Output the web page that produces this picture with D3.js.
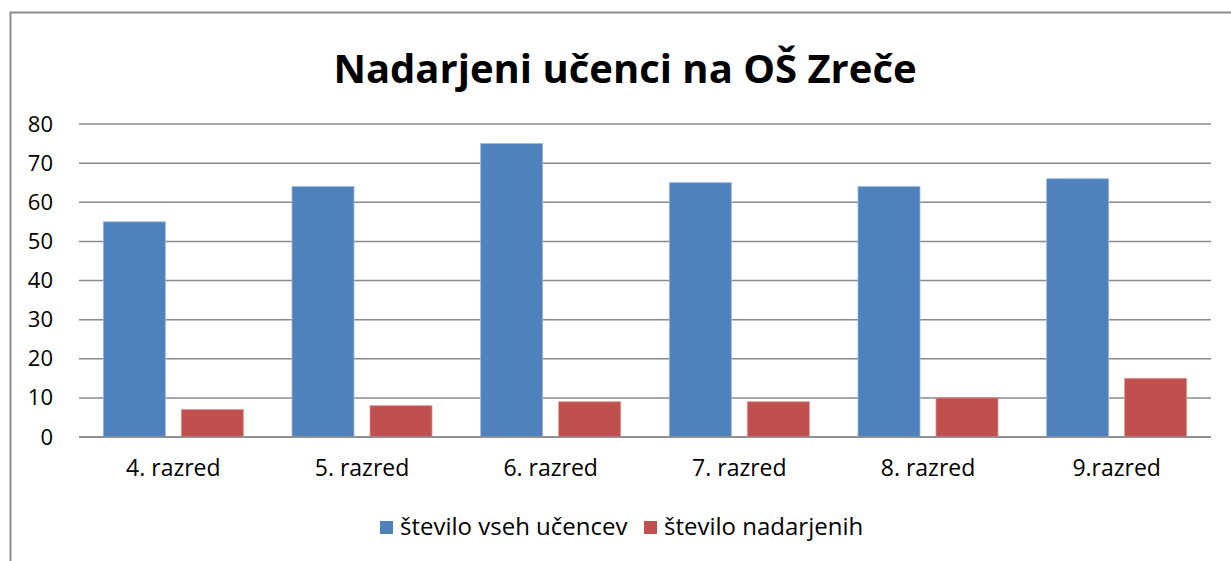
<!DOCTYPE html>
<html>
  <head>
    <meta charset="UTF-8" />
    <title>Nadarjeni učenci na OŠ Zreče</title>
    <style>
      body { margin: 0; background: #fff; }
      text { font-family: "Open Sans", "DejaVu Sans", sans-serif; fill: #000; }
    </style>
  </head>
  <body>
    <script src="https://cdn.jsdelivr.net/npm/d3@7/dist/d3.min.js"></script>
    <script>
      var categories = ["4. razred", "5. razred", "6. razred", "7. razred", "8. razred", "9.razred"];
      var seriesNames = ["število vseh učencev", "število nadarjenih"];
      var allPupils = [55, 64, 75, 65, 64, 66];
      var gifted = [7, 8, 9, 9, 10, 15];
      var yTicks = [0, 10, 20, 30, 40, 50, 60, 70, 80];
      var colors = ["#4F81BD", "#C0504D"];

      var width = 1231, height = 561;
      var plotLeft = 79, plotRight = 1211, plotTop = 124, plotBottom = 437;

      var svg = d3.select("body").append("svg")
        .attr("width", width)
        .attr("height", height);

      // outer chart frame (only top and left edges are visible)
      svg.append("path")
        .attr("d", "M10.5,561 V12.5 H1231")
        .attr("fill", "none")
        .attr("stroke", "#8c8c8c")
        .attr("stroke-width", 2);

      var x = d3.scaleBand().domain(categories).range([plotLeft, plotRight]).paddingInner(0).paddingOuter(0);
      var y = d3.scaleLinear().domain([0, 80]).range([plotBottom, plotTop]);

      // gridlines
      svg.append("g").selectAll("line")
        .data(yTicks)
        .enter()
        .append("line")
        .attr("x1", plotLeft).attr("x2", plotRight)
        .attr("y1", function(d) { return y(d); })
        .attr("y2", function(d) { return y(d); })
        .attr("stroke", "#8a8a8a")
        .attr("stroke-width", 1.5);

      // y axis labels
      var yAxis = d3.axisLeft(y).tickValues(yTicks).tickSize(0).tickPadding(26);
      var gy = svg.append("g").attr("transform", "translate(" + plotLeft + ",0)").call(yAxis);
      gy.select(".domain").remove();
      gy.selectAll("text").style("font-size", "22px").style("font-family", null);

      // x axis labels
      var xAxis = d3.axisBottom(x).tickSize(0).tickPadding(23);
      var gx = svg.append("g").attr("transform", "translate(0," + plotBottom + ")").call(xAxis);
      gx.select(".domain").remove();
      gx.selectAll("text").style("font-size", "23px").style("font-family", null);

      // bars
      var inner = d3.scaleBand().domain([0, 1]).range([0, x.bandwidth()]).paddingInner(0.205).paddingOuter(0.312);
      var series = [allPupils, gifted];
      series.forEach(function(values, s) {
        svg.append("g").selectAll("rect")
          .data(values)
          .enter()
          .append("rect")
          .attr("x", function(d, i) { return x(categories[i]) + inner(s); })
          .attr("y", function(d) { return y(d); })
          .attr("width", inner.bandwidth())
          .attr("height", function(d) { return plotBottom - y(d); })
          .attr("fill", colors[s])
          .attr("stroke", s === 0 ? "#9cb8db" : "#dc9593")
          .attr("stroke-width", 0.8);
      });

      // redraw baseline on top of bars
      svg.append("line")
        .attr("x1", plotLeft).attr("x2", plotRight)
        .attr("y1", y(0)).attr("y2", y(0))
        .attr("stroke", "#8a8a8a")
        .attr("stroke-width", 1.5);

      // title
      svg.append("text")
        .attr("x", 625)
        .attr("y", 83)
        .attr("text-anchor", "middle")
        .style("font-size", "40px")
        .style("font-weight", "bold")
        .text("Nadarjeni učenci na OŠ Zreče");

      // legend
      var legendX = [380, 644];
      var legend = svg.append("g").selectAll("g")
        .data(seriesNames)
        .enter()
        .append("g")
        .attr("transform", function(d, i) { return "translate(" + legendX[i] + ",521)"; });
      legend.append("rect")
        .attr("width", 13).attr("height", 13)
        .attr("fill", function(d, i) { return colors[i]; });
      legend.append("text")
        .attr("x", 20)
        .attr("y", 14)
        .style("font-size", "24px")
        .text(function(d) { return d; });
    </script>
  </body>
</html>
